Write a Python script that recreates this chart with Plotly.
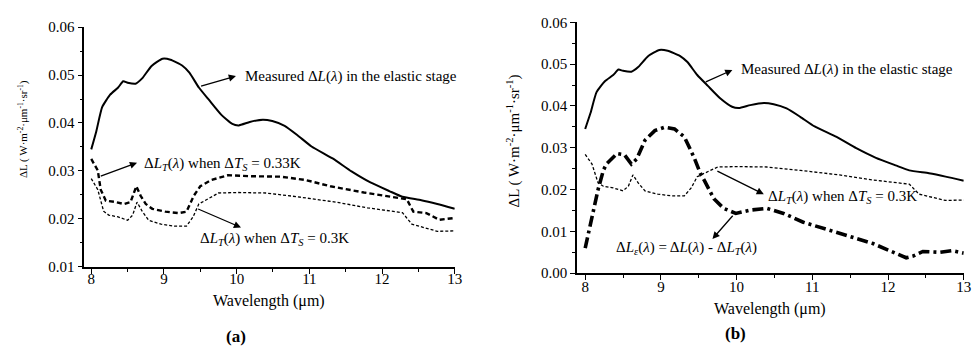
import plotly.graph_objects as go

# ---------------- data ----------------
wl_measured = [8.0, 8.07, 8.15, 8.26, 8.37, 8.44, 8.50, 8.61, 8.70, 8.83, 8.98, 9.09, 9.25, 9.35,
               9.48, 9.62, 9.79, 9.94, 10.03, 10.18, 10.36, 10.49, 10.66, 10.84, 11.03, 11.32,
               11.58, 11.84, 12.10, 12.28, 12.54, 12.76, 13.0]
dl_measured = [0.0345, 0.0383, 0.0433, 0.0459, 0.0474, 0.0487, 0.0484, 0.0482, 0.0493, 0.0519,
               0.0534, 0.0532, 0.0520, 0.0505, 0.0474, 0.0448, 0.0417, 0.0398, 0.0395, 0.0402,
               0.0407, 0.0404, 0.0394, 0.0374, 0.0351, 0.0326, 0.0299, 0.0276, 0.0258, 0.0246,
               0.0239, 0.0231, 0.0221]

wl_t03 = [8.0, 8.09, 8.17, 8.24, 8.37, 8.50, 8.57, 8.63, 8.70, 8.79, 8.96, 9.14, 9.31, 9.40,
          9.48, 9.57, 9.75, 10.01, 10.40, 10.84, 11.36, 11.80, 12.28, 12.41, 12.59, 12.76, 13.0]
dl_t03 = [0.0284, 0.0261, 0.0216, 0.0208, 0.0204, 0.0197, 0.0208, 0.0235, 0.0216, 0.0197,
          0.0189, 0.0185, 0.0185, 0.0204, 0.0231, 0.0239, 0.0254, 0.0255, 0.0254, 0.0246,
          0.0235, 0.0223, 0.0213, 0.0189, 0.0181, 0.0174, 0.0175]

wl_t033 = [8.0, 8.09, 8.13, 8.20, 8.34, 8.45, 8.54, 8.62, 8.68, 8.75, 8.84, 9.02, 9.20, 9.31,
           9.41, 9.50, 9.65, 9.88, 10.20, 10.61, 10.95, 11.29, 11.75, 12.20, 12.34, 12.43,
           12.61, 12.79, 13.0]
dl_t033 = [0.0325, 0.0301, 0.0261, 0.0238, 0.0235, 0.0231, 0.0235, 0.0268, 0.0248, 0.0231,
           0.0221, 0.0215, 0.0212, 0.0215, 0.0248, 0.0268, 0.0281, 0.0291, 0.0289, 0.0288,
           0.0281, 0.0268, 0.0255, 0.0245, 0.0241, 0.0215, 0.0212, 0.0198, 0.0202]

wl_eps = [8.0, 8.09, 8.17, 8.24, 8.28, 8.42, 8.52, 8.61, 8.68, 8.79, 8.92, 9.05, 9.18, 9.31,
          9.44, 9.53, 9.57, 9.70, 9.83, 9.99, 10.18, 10.40, 10.62, 10.88, 11.36, 11.80, 12.24,
          12.33, 12.46, 12.68, 12.85, 13.0]
dl_eps = [0.0060, 0.0132, 0.0200, 0.0246, 0.0261, 0.0286, 0.0283, 0.0261, 0.0273, 0.0318,
          0.0341, 0.0349, 0.0345, 0.0326, 0.0276, 0.0235, 0.0223, 0.0178, 0.0155, 0.0143,
          0.0151, 0.0155, 0.0143, 0.0122, 0.0095, 0.0071, 0.0037, 0.0041, 0.0052, 0.0050,
          0.0054, 0.0048]

x_ticks = [8, 9, 10, 11, 12, 13]
x_tick_text = ["8", "9", "10", "11", "12", "13"]

# ---------------- figure ----------------
W, H = 978, 356
SERIF = "Liberation Serif, Times New Roman, Times, serif"
BLK = "#000000"


def px(x):
    return x / W


def py(y):
    return 1 - y / H


fig = go.Figure()

solid = dict(color=BLK, width=2.0, shape="spline", smoothing=0.5)
dotted = dict(color=BLK, width=1.3, dash="3px,2px")
dashed = dict(color=BLK, width=2.4, dash="5px,3px")
dashdot = dict(color=BLK, width=3.6, dash="11px,4px,3px,4px")

# panel (a)
fig.add_trace(go.Scatter(x=wl_measured, y=dl_measured, mode="lines", line=solid, xaxis="x", yaxis="y"))
fig.add_trace(go.Scatter(x=wl_t033, y=dl_t033, mode="lines", line=dashed, xaxis="x", yaxis="y"))
fig.add_trace(go.Scatter(x=wl_t03, y=dl_t03, mode="lines", line=dotted, xaxis="x", yaxis="y"))
# panel (b)
fig.add_trace(go.Scatter(x=wl_measured, y=dl_measured, mode="lines", line=solid, xaxis="x2", yaxis="y2"))
fig.add_trace(go.Scatter(x=wl_t03, y=dl_t03, mode="lines", line=dotted, xaxis="x2", yaxis="y2"))
fig.add_trace(go.Scatter(x=wl_eps, y=dl_eps, mode="lines", line=dashdot, xaxis="x2", yaxis="y2"))

tickfont = dict(family=SERIF, size=15, color=BLK)


def xax(domain, rng, standoff):
    return dict(domain=domain, range=rng, showgrid=False, zeroline=False,
                showline=True, linecolor=BLK, linewidth=1.5,
                ticks="outside", ticklen=5, tickwidth=1.3, tickcolor=BLK,
                tickvals=x_ticks, ticktext=x_tick_text, tickfont=tickfont,
                ticklabelstandoff=standoff,
                minor=dict(dtick=0.5, tick0=8, ticks="outside", ticklen=3, tickwidth=1.1, tickcolor=BLK),
                fixedrange=True)


def yax(domain, rng, anchor):
    return dict(domain=domain, range=rng, anchor=anchor, showgrid=False, zeroline=False,
                showline=True, linecolor=BLK, linewidth=1.5,
                ticks="outside", ticklen=5, tickwidth=1.3, tickcolor=BLK,
                dtick=0.01, tick0=0, tickformat=".2f", tickfont=tickfont,
                minor=dict(dtick=0.005, tick0=0, ticks="outside", ticklen=3, tickwidth=1.1, tickcolor=BLK),
                fixedrange=True)


fig.update_layout(
    width=W, height=H,
    margin=dict(l=0, r=0, t=0, b=0),
    paper_bgcolor="white", plot_bgcolor="white",
    showlegend=False,
    xaxis=dict(**xax([px(85), px(458.5)], [7.9045, 13.0], -8), anchor="y"),
    yaxis=yax([py(271), py(20)], [0.01, 0.06], "x"),
    xaxis2=dict(**xax([px(581.7), px(971.7)], [7.891, 13.0], -6), anchor="y2"),
    yaxis2=yax([py(277.7), py(15)], [0.0, 0.06], "x2"),
)

ann = []
lbl = dict(family=SERIF, size=15, color=BLK)


def arrow(xref, yref, tail, head):
    return dict(xref=xref, yref=yref, axref=xref, ayref=yref,
                x=head[0], y=head[1], ax=tail[0], ay=tail[1],
                text="", showarrow=True, arrowhead=2, arrowsize=1.1,
                arrowwidth=1.3, arrowcolor=BLK, standoff=0, startstandoff=0)


def label(xref, yref, x, y, text, xanchor="left"):
    return dict(xref=xref, yref=yref, x=x, y=y, text=text, showarrow=False,
                xanchor=xanchor, yanchor="middle", font=lbl)


meas_txt = "Measured Δ<i>L</i>(<i>λ</i>) in the elastic stage"
t03_txt = "Δ<i>L</i><sub><i>T</i></sub>(<i>λ</i>) when Δ<i>T</i><sub><i>S</i></sub> = 0.3K"
t033_txt = "Δ<i>L</i><sub><i>T</i></sub>(<i>λ</i>) when Δ<i>T</i><sub><i>S</i></sub> = 0.33K"
eps_txt = "Δ<i>L</i><sub><i>ε</i></sub>(<i>λ</i>) = Δ<i>L</i>(<i>λ</i>) - Δ<i>L</i><sub><i>T</i></sub>(<i>λ</i>)"

# panel (a) annotations
ann.append(arrow("x", "y", (9.49, 0.0476), (9.99, 0.0498)))
ann.append(label("x", "y", 10.09, 0.0498, meas_txt))
ann.append(arrow("x", "y", (8.11, 0.0288), (8.63, 0.0317)))
ann.append(label("x", "y", 8.70, 0.0315, t033_txt))
ann.append(arrow("x", "y", (9.45, 0.0222), (10.06, 0.0182)))
ann.append(label("x", "y", 9.47, 0.0158, t03_txt))

# panel (b) annotations
ann.append(arrow("x2", "y2", (9.573, 0.0456), (9.944, 0.0486)))
ann.append(label("x2", "y2", 10.03, 0.0486, meas_txt))
ann.append(arrow("x2", "y2", (9.726, 0.0246), (10.359, 0.0189)))
ann.append(label("x2", "y2", 10.394, 0.0182, t03_txt))
ann.append(arrow("x2", "y2", (9.966, 0.0141), (9.681, 0.0082)))
ann.append(label("x2", "y2", 9.333, 0.0061, eps_txt, xanchor="center"))

# axis titles
ytitle = "ΔL ( W·m<sup>-2</sup>·μm<sup>-1</sup>·sr<sup>-1</sup>)"
ann.append(dict(xref="paper", yref="paper", x=px(23), y=py(127), text=ytitle, textangle=-90,
                showarrow=False, xanchor="center", yanchor="middle",
                font=dict(family=SERIF, size=11, color=BLK)))
ann.append(dict(xref="paper", yref="paper", x=px(518), y=py(139), text=ytitle, textangle=-90,
                showarrow=False, xanchor="center", yanchor="middle",
                font=dict(family=SERIF, size=15, color=BLK)))
xtitle = "Wavelength (μm)"
ann.append(dict(xref="paper", yref="paper", x=px(271.7), y=py(307), text=xtitle,
                showarrow=False, xanchor="center", yanchor="middle",
                font=dict(family=SERIF, size=16, color=BLK)))
ann.append(dict(xref="paper", yref="paper", x=px(776.7), y=py(315), text=xtitle,
                showarrow=False, xanchor="center", yanchor="middle",
                font=dict(family=SERIF, size=16, color=BLK)))
# panel letters
ann.append(dict(xref="paper", yref="paper", x=px(237.5), y=py(344), text="<b>(a)</b>",
                showarrow=False, xanchor="center", yanchor="middle",
                font=dict(family=SERIF, size=17, color=BLK)))
ann.append(dict(xref="paper", yref="paper", x=px(741.5), y=py(341), text="<b>(b)</b>",
                showarrow=False, xanchor="center", yanchor="middle",
                font=dict(family=SERIF, size=17, color=BLK)))

fig.update_layout(annotations=ann)

fig.write_html("out.html", config={"displayModeBar": False})
